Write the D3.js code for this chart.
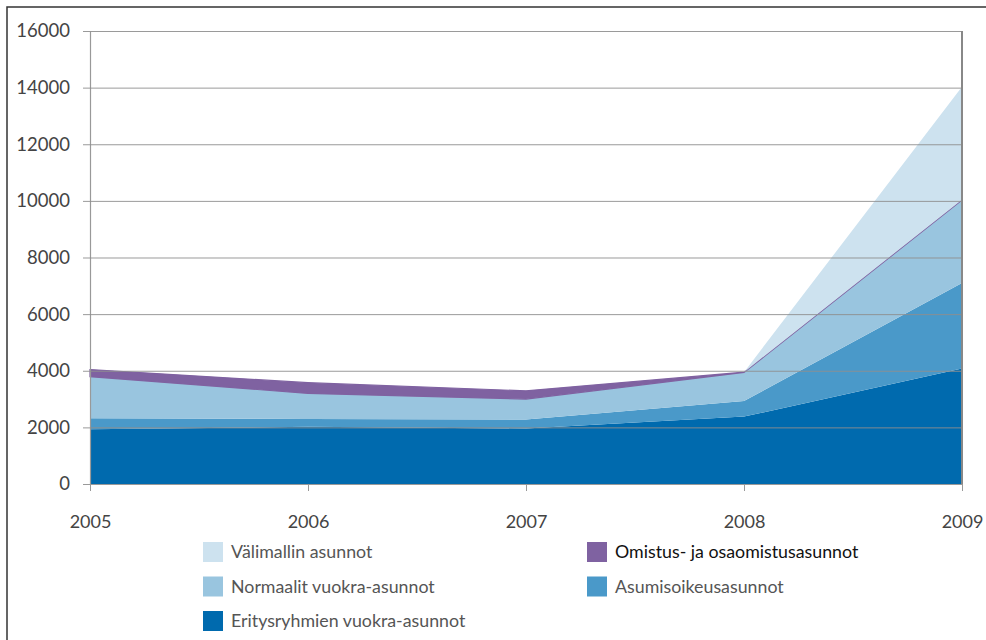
<!DOCTYPE html>
<html>
<head>
<meta charset="utf-8">
<script src="https://cdn.jsdelivr.net/npm/d3@7"></script>
<style>
  body { margin: 0; background: #fff; }
  svg text { font-family: Lato, "Open Sans", sans-serif; }
</style>
</head>
<body>
<svg class="chart" width="986" height="640"></svg>
<script>
// years on the x axis
const years = [2005, 2006, 2007, 2008, 2009];

// series values, bottom to top of the stack
const eritysryhmien = [1930, 2020, 1960, 2380, 4080];
const asumisoikeus = [390, 280, 320, 550, 3020];
const normaalit = [1470, 900, 720, 1010, 2930];
const omistus = [250, 380, 290, 10, 10];
const valimallin = [0, 0, 0, 0, 3990];

const yTicks = [0, 2000, 4000, 6000, 8000, 10000, 12000, 14000, 16000];

const seriesNames = [
  'Eritysryhmien vuokra-asunnot',
  'Asumisoikeusasunnot',
  'Normaalit vuokra-asunnot',
  'Omistus- ja osaomistusasunnot',
  'Välimallin asunnot'
];
const seriesColors = ['#006aae', '#4a99c9', '#99c5df', '#7f62a1', '#cde2ef'];
const seriesValues = [eritysryhmien, asumisoikeus, normaalit, omistus, valimallin];

const svg = d3.select('.chart');

// outer frame (top and left edges only are visible)
svg.append('path')
  .attr('d', 'M7,640 V7 H986')
  .attr('fill', 'none')
  .attr('stroke', '#333')
  .attr('stroke-width', 1.5);

const x = d3.scaleLinear().domain([2005, 2009]).range([90, 962]);
const y = d3.scaleLinear().domain([0, 16000]).range([484, 31]);

// build a table the stack generator can use
const table = years.map((yr, i) => {
  const row = { year: yr };
  seriesNames.forEach((n, k) => { row[n] = seriesValues[k][i]; });
  return row;
});

const stacked = d3.stack().keys(seriesNames)(table);

const area = d3.area()
  .x(d => x(d.data.year))
  .y0(d => y(d[0]))
  .y1(d => y(d[1]));

svg.append('g')
  .selectAll('path')
  .data(stacked)
  .join('path')
  .attr('d', area)
  .attr('fill', (d, i) => seriesColors[i])
  .attr('stroke', (d, i) => i === 3 ? seriesColors[i] : 'none')
  .attr('stroke-width', 1.2);

// gridlines sit on top of the areas
const yAxis = d3.axisLeft(y)
  .tickValues(yTicks)
  .tickSize(-(962 - 90))
  .tickSizeOuter(0)
  .tickPadding(20)
  .tickFormat(d3.format('d'));

const gy = svg.append('g')
  .attr('transform', 'translate(90,0)')
  .call(yAxis);
gy.select('.domain').attr('stroke', '#999').attr('stroke-width', 1.2);
gy.selectAll('.tick line')
  .attr('x1', -7)
  .attr('stroke', '#8f8f8f')
  .attr('stroke-opacity', 0.9);
gy.selectAll('.tick text')
  .attr('fill', '#444')
  .attr('font-size', 18.5);

const xAxis = d3.axisBottom(x)
  .tickValues(years)
  .tickSize(7)
  .tickSizeOuter(0)
  .tickPadding(24)
  .tickFormat(d3.format('d'));

const gx = svg.append('g')
  .attr('transform', 'translate(0,484)')
  .call(xAxis);
gx.select('.domain').attr('stroke', '#999').attr('stroke-width', 1.2);
gx.selectAll('.tick line').attr('stroke', '#999');
gx.selectAll('.tick text')
  .attr('fill', '#444')
  .attr('font-size', 18);

// right border of the plot
svg.append('line')
  .attr('x1', x(2009)).attr('x2', x(2009))
  .attr('y1', y(16000)).attr('y2', y(0))
  .attr('stroke', '#888')
  .attr('stroke-width', 2);

// legend
const legendItems = [
  { name: 'Välimallin asunnot', color: seriesColors[4], col: 0, row: 0 },
  { name: 'Normaalit vuokra-asunnot', color: seriesColors[2], col: 0, row: 1 },
  { name: 'Eritysryhmien vuokra-asunnot', color: seriesColors[0], col: 0, row: 2 },
  { name: 'Omistus- ja osaomistusasunnot', color: seriesColors[3], col: 1, row: 0 },
  { name: 'Asumisoikeusasunnot', color: seriesColors[1], col: 1, row: 1 }
];

const legend = svg.append('g')
  .selectAll('g')
  .data(legendItems)
  .join('g')
  .attr('transform', d => `translate(${203 + d.col * 384},${542 + d.row * 34.5})`);

legend.append('rect')
  .attr('width', 20)
  .attr('height', 20)
  .attr('fill', d => d.color);

legend.append('text')
  .attr('x', 28)
  .attr('y', 16)
  .attr('font-size', 17.8)
  .attr('fill', d => d.col === 1 && d.row === 0 ? '#111' : '#555')
  .text(d => d.name);
</script>
</body>
</html>
